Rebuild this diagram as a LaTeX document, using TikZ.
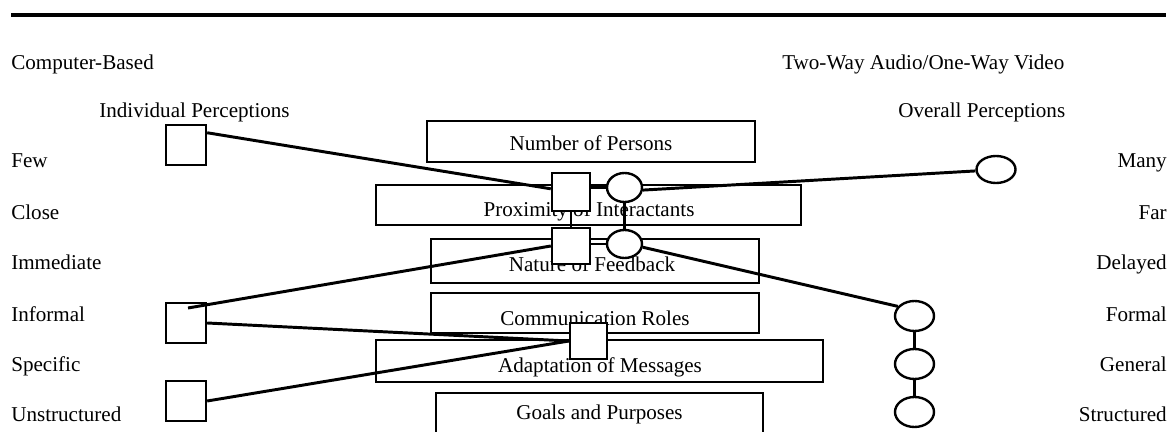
\documentclass[tikz,border=0pt]{standalone}
\usepackage{fontspec}
\setmainfont{Liberation Serif}
\usetikzlibrary{shapes.geometric,calc}

\begin{document}
\begin{tikzpicture}[x=0.025cm,y=-0.025cm,
  every node/.style={font=\fontsize{15}{18}\selectfont},
  factorbox/.style={draw, line width=1.6pt, inner sep=0pt},
  word/.style={inner sep=0pt},
  rating/.style={draw, fill=white, line width=1.7pt, inner sep=0pt,
                 minimum width=0.95cm, minimum height=0.95cm},
  oval/.style={ellipse, draw, fill=white, line width=1.7pt, inner sep=0pt},
  link/.style={line width=2.1pt}
]
\useasboundingbox (0,0) rectangle (1170,432);
\clip (0,0) rectangle (1170,432);

% rule across the top
\draw[line width=2.4pt] (11,15) -- (1166,15);

% headings
\node[word, anchor=base west] (cbased) at (11,70) {Computer-Based};
\node[word, anchor=base west] (twoway) at (782,70) {Two-Way Audio/One-Way Video};
\node[word, anchor=base west] (indiv) at (99,118) {Individual Perceptions};
\node[word, anchor=base west] (overall) at (898,118) {Overall Perceptions};

% scale ends, left
\node[word, anchor=base west] (lfew)   at (11,168) {Few};
\node[word, anchor=base west] (lclose) at (11,220) {Close};
\node[word, anchor=base west] (limm)   at (11,270) {Immediate};
\node[word, anchor=base west] (linf)   at (11,321) {Informal};
\node[word, anchor=base west] (lspec)  at (11,371) {Specific};
\node[word, anchor=base west] (lunst)  at (11,421) {Unstructured};

% scale ends, right
\node[word, anchor=base east] (rmany)  at (1167,168) {Many};
\node[word, anchor=base east] (rfar)   at (1167,220) {Far};
\node[word, anchor=base east] (rdel)   at (1167,270) {Delayed};
\node[word, anchor=base east] (rform)  at (1167,321) {Formal};
\node[word, anchor=base east] (rgen)   at (1167,371) {General};
\node[word, anchor=base east] (rstr)   at (1167,421) {Structured};

% factor boxes
\node[factorbox, minimum width=8.2cm, minimum height=1.025cm] (persons) at (591,141.5) {};
\node[word, anchor=base] (personsT) at (591,151) {Number of Persons};

\node[factorbox, minimum width=10.625cm, minimum height=1cm] (proximity) at (588.5,205) {};
\node[word, anchor=base] (proximityT) at (589,217) {Proximity of Interactants};

\node[factorbox, minimum width=8.2cm, minimum height=1.1cm] (feedback) at (595,261) {};
\node[word, anchor=base] (feedbackT) at (592,272) {Nature of Feedback};

\node[factorbox, minimum width=8.2cm, minimum height=1cm] (roles) at (595,313) {};
\node[word, anchor=base] (rolesT) at (595,325) {Communication Roles};

\node[factorbox, minimum width=11.175cm, minimum height=1.05cm] (messages) at (599.5,361) {};
\node[word, anchor=base] (messagesT) at (600,372) {Adaptation of Messages};

\node[factorbox, minimum width=8.175cm, minimum height=1.3cm] (goals) at (599.5,419) {};
\node[word, anchor=base] (goalsT) at (599.5,419) {Goals and Purposes};

% computer-based ratings (squares)
\node[rating, minimum size=1cm] (sqFew) at (186,145) {};
\node[rating, minimum size=1cm] (sqInf) at (186,323) {};
\node[rating, minimum size=1cm] (sqUns) at (186,401) {};
\node[rating] (sqA) at (571,192) {};
\node[rating, minimum height=0.9cm] (sqB) at (571,246) {};
\node[rating, minimum width=0.925cm, minimum height=0.9cm] (sqC) at (588.5,341) {};

% audio/video ratings (ovals)
\node[oval, minimum width=0.875cm, minimum height=0.725cm] (ovA) at (624.5,187.5) {};
\node[oval, minimum width=0.875cm, minimum height=0.7cm] (ovB) at (624.5,244) {};
\node[oval, minimum width=0.975cm, minimum height=0.675cm] (ovMany) at (996,169.5) {};
\node[oval, minimum width=0.975cm, minimum height=0.75cm] (ovForm) at (914.5,316) {};
\node[oval, minimum width=0.975cm, minimum height=0.75cm] (ovGen) at (914.5,364) {};
\node[oval, minimum width=0.975cm, minimum height=0.75cm] (ovStr) at (914.5,412) {};

% profile lines, squares
\draw[link] (sqFew.30) -- (sqA.171);
\draw[link] (sqA.south) -- (sqB.north);
\coordinate (infStart) at ($(sqInf.center)+(2,-15)$);
\draw[link] (infStart) -- (sqB.west);
\draw[link] (sqInf.east) -- (sqC.west);
\draw[link] (sqUns.east) -- (sqC.west);

% links between paired ratings
\draw[link] (sqA.east |- ovA.west) -- (ovA.west);
\draw[link] (sqB.east |- ovB.west) -- (ovB.west);

% profile lines, ovals
\draw[link] (ovA.-8) -- (ovMany.184);
\draw[link] (ovA.south) -- (ovB.north);
\draw[link] (ovB.-10) -- (ovForm.150);
\draw[link] (ovForm.south) -- (ovGen.north);
\draw[link] (ovGen.south) -- (ovStr.north);
\end{tikzpicture}
\end{document}
